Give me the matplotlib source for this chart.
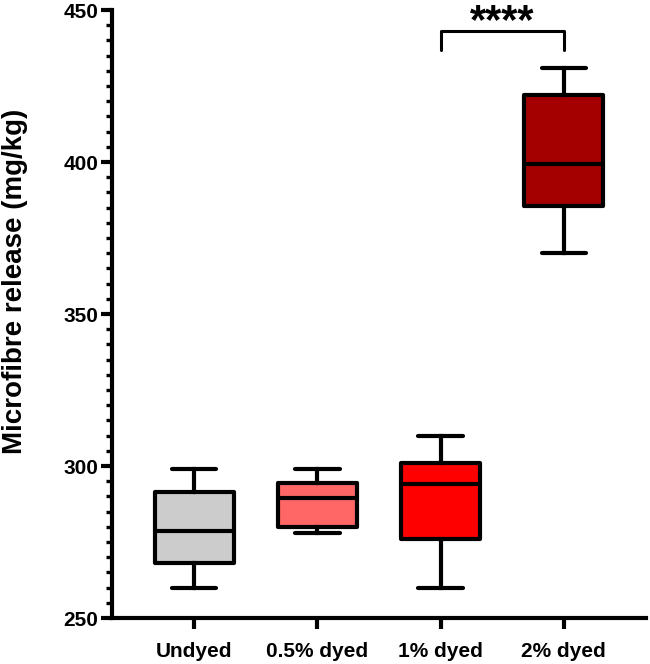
import numpy as np
import matplotlib.pyplot as plt

# Data
groups = ['Undyed', '0.5% dyed', '1% dyed', '2% dyed']
whislo = [260, 278, 260, 370]
q1 = [268, 280, 276, 385.5]
med = [278.5, 289.5, 294, 399.5]
q3 = [291.5, 294.5, 301, 422]
whishi = [299, 299, 310, 431]
colors = ['#cccccc', '#ff6666', '#ff0000', '#a50000']

plt.rcParams['font.family'] = ['Liberation Sans', 'DejaVu Sans']
plt.rcParams['font.weight'] = 'bold'

fig = plt.figure(figsize=(6.5, 6.64), dpi=100)
ax = fig.add_axes([112/650, 46/664, 534/650, 608/664])

stats = []
for i in range(len(groups)):
    stats.append(dict(label=groups[i], whislo=whislo[i], q1=q1[i], med=med[i],
                      q3=q3[i], whishi=whishi[i], fliers=[]))

lw = 3.0
bp = ax.bxp(stats, positions=np.arange(1, 5), widths=0.64, capwidths=0.36,
            patch_artist=True, showfliers=False,
            boxprops=dict(linewidth=lw, edgecolor='black'),
            medianprops=dict(color='black', linewidth=lw, solid_capstyle='butt'),
            whiskerprops=dict(color='black', linewidth=lw),
            capprops=dict(color='black', linewidth=lw, solid_capstyle='round'))
for patch, c in zip(bp['boxes'], colors):
    patch.set_facecolor(c)
    patch.set_joinstyle('round')

# significance bracket
ax.plot([3, 3, 4, 4], [437, 443, 443, 437], color='black', linewidth=2.2,
        solid_capstyle='round', clip_on=False)
ax.text(3.5, 442.3, '****', ha='center', va='baseline', fontsize=30,
        fontweight='bold', clip_on=False)

ax.set_xlim(0.333, 4.667)
ax.set_ylim(250, 450)
ax.set_yticks([250, 300, 350, 400, 450])
ax.set_yticks(np.arange(250, 451, 5), minor=True)
ax.set_ylabel('Microfibre release (mg/kg)', fontsize=20, fontweight='bold')
ax.yaxis.set_label_coords(-0.157, 0.553)

for s in ['top', 'right']:
    ax.spines[s].set_visible(False)
for s in ['left', 'bottom']:
    ax.spines[s].set_linewidth(3.0)
ax.tick_params(axis='both', which='major', width=3.0, length=8, labelsize=15, pad=2)
ax.tick_params(axis='y', which='minor', width=2.4, length=4.5)
ax.tick_params(axis='x', which='major', pad=9)

plt.savefig('out.png', dpi=100)
